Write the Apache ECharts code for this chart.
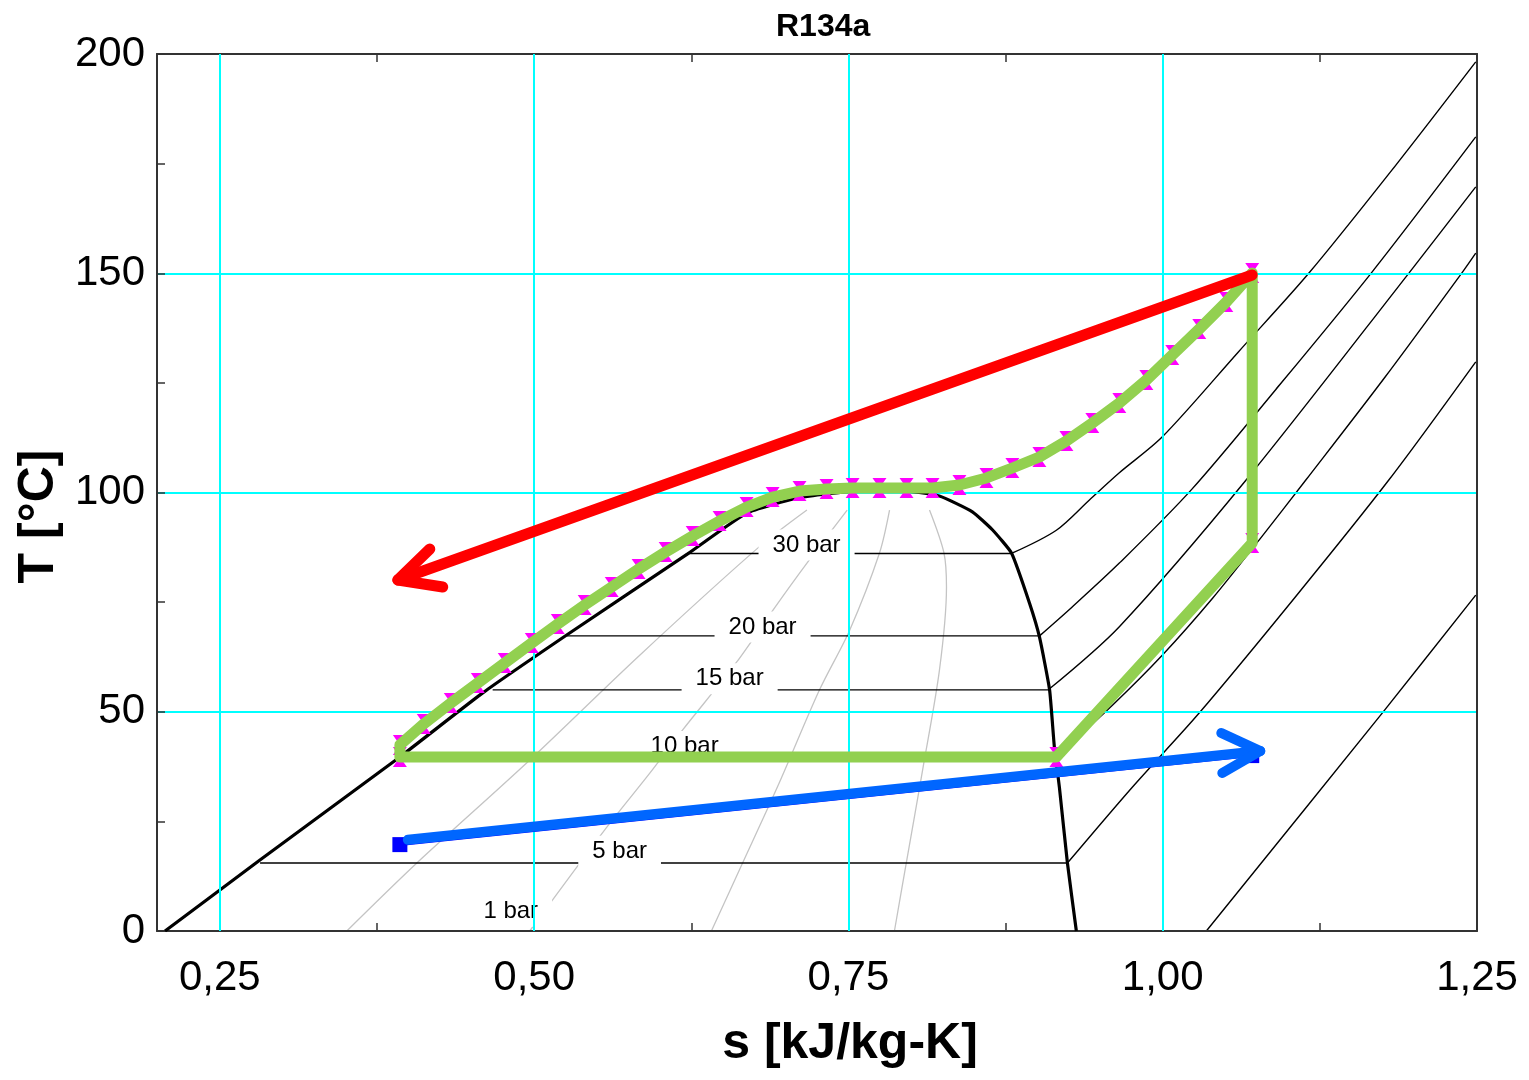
<!DOCTYPE html>
<html>
<head>
<meta charset="utf-8">
<script src="https://cdn.jsdelivr.net/npm/echarts@6/dist/echarts.min.js"></script>
<style>html,body{margin:0;padding:0;background:#fff}#c{width:1529px;height:1080px}</style>
</head>
<body>
<div id="c"></div>
<script>
// ---------- DATA (s [kJ/kg-K], T [°C]) ----------
const xLabelValues = [0.25, 0.5, 0.75, 1.0, 1.25];
const xTickValues = [0.25, 0.375, 0.5, 0.625, 0.75, 0.875, 1.0, 1.125];
const xGridValues = [0.25, 0.5, 0.75, 1.0];

// saturation dome
const dome = [[0.2064,0],[0.2819,16.2],[0.3932,39.7],[0.4591,54.3],[0.5259,67.5],[0.6221,86.0],[0.669,95.3],[0.7087,98.7],[0.75,100.2],[0.79,100.5],[0.8223,99.2],[0.8486,95.6],[0.8645,91.5],[0.8797,86.2],[0.894,74.8],[0.902,67.0],[0.910,55.0],[0.9138,42.0],[0.9178,32.8],[0.9242,15.5],[0.9313,0]];

// quality lines (grey)
const quality1 = [[0.351,0],[0.4067,15.5],[0.494,38.3],[0.584,62.9],[0.679,87.6],[0.717,96.0]];
const quality2 = [[0.4965,0],[0.556,23.0],[0.592,36.0],[0.618,45.8],[0.661,61.3],[0.690,73.2],[0.717,83.9],[0.749,96.0]];
const quality3 = [[0.641,0],[0.6658,15.5],[0.695,33.8],[0.727,55.0],[0.751,68.6],[0.7747,86.2],[0.7827,96.0]];
const quality4 = [[0.7866,0],[0.796,15.5],[0.809,36.7],[0.8224,59.5],[0.828,78.4],[0.826,86.2],[0.8145,96.0]];

// isobars: two-phase part
const pressureNames = ['30 bar','20 bar','15 bar','10 bar','5 bar'];
const twoPhaseT  = [86.1, 67.3, 55.0, 39.6, 15.5];
const twoPhaseSL = [0.622, 0.526, 0.467, 0.3932, 0.282];
const twoPhaseSV = [0.8797, 0.902, 0.909, 0.9146, 0.9242];

// isobars: superheated part
const sup30 = [[0.8797,86.1],[0.9154,91.4],[0.9417,98.3],[0.9655,104.5],[0.9997,112.7],[1.06,132.0],[1.1165,150.1],[1.185,174.5],[1.249,198.2]];
const sup20 = [[0.902,67.3],[0.928,73.9],[0.9655,83.9],[1.0227,100.6],[1.09,123.5],[1.166,150.1],[1.249,181.1]];
const sup15 = [[0.909,55.0],[0.9655,69.4],[1.0665,102.9],[1.196,150.1],[1.249,169.7]];
const sup10 = [[0.9146,39.6],[0.96,51.5],[1.0,63.0],[1.04,76.0],[1.0768,89.2],[1.114,102.9],[1.176,126.0],[1.238,150.1],[1.249,154.6]];
const sup5  = [[0.9242,15.5],[0.9758,32.8],[1.029,49.7],[1.105,76.0],[1.18,102.9],[1.249,129.8]];
const sup1  = [[1.0347,0],[1.1746,49.7],[1.249,76.6]];

// isobar labels
const isoLabelNames = ['30 bar','20 bar','15 bar','10 bar','5 bar','1 bar'];
const isoLabelS = [0.7167, 0.6817, 0.6555, 0.6197, 0.568, 0.4814];
const isoLabelT = [88.0, 69.3, 57.5, 42.1, 18.2, 4.5];

// cycle (green) with data points (magenta markers)
const cycleCurve = [[1.0712,150.06],[1.0506,143.44],[1.0291,137.29],[1.0076,131.36],[0.9870,125.66],[0.9655,120.41],[0.9440,115.85],[0.9234,111.74],[0.9019,108.10],[0.8804,105.59],[0.8598,103.31],[0.8383,101.71],[0.8169,101.03],[0.7962,101.03],[0.7747,101.03],[0.7533,101.03],[0.7326,100.80],[0.7111,100.34],[0.6897,98.97],[0.6690,96.69],[0.6475,93.50],[0.6261,90.08],[0.6046,86.43],[0.5831,82.55],[0.5617,78.45],[0.5402,74.34],[0.5188,70.01],[0.4981,65.68],[0.4766,61.12],[0.4552,56.56],[0.4337,52.0],[0.4122,47.21],[0.3932,42.42]];
const cycleLow = [[0.3932,39.68],[0.9154,39.68],[1.0712,88.48]];

// red arrow
const redShaft = [[1.0712,149.6],[0.3916,80.05]];
const redHead  = [[0.417,87.1],[0.3916,80.05],[0.4273,78.45]];

// blue process and arrow
const bluePoints = [[0.3932,19.7],[1.0708,40.0]];
const blueShaft  = [[0.3995,20.8],[1.0776,41.05]];
const blueHead   = [[1.0466,45.15],[1.0776,41.05],[1.0474,36.03]];

// ---------- CHART ----------
const FONT = 'Liberation Sans, Arial, sans-serif';
const chart = echarts.init(document.getElementById('c'), null, {renderer: 'canvas'});

const cyclePath = cycleLow.concat(cycleCurve).concat([[0.3932,39.68]]);
const cycleMarkers = cycleCurve.concat(cycleLow);

function thinLine(data, color, width, z, smooth) {
  return {type: 'line', data: data, showSymbol: false, symbol: 'none', smooth: smooth || false,
    lineStyle: {color: color, width: width}, z: z, silent: true, animation: false};
}

const series = [];
// cyan vertical grid lines
series.push({type: 'line', data: [], z: 1, silent: true,
  markLine: {silent: true, symbol: ['none','none'], animation: false, label: {show: false},
    lineStyle: {color: '#00FFFF', width: 2, type: 'solid'},
    data: xGridValues.map(v => ({xAxis: v}))}});
[quality1, quality2, quality3, quality4].forEach(q => series.push(thinLine(q, '#C4C4C4', 1.3, 2, 0.3)));
pressureNames.forEach((n, i) => series.push(thinLine([[twoPhaseSL[i], twoPhaseT[i]], [twoPhaseSV[i], twoPhaseT[i]]], '#000', 1.4, 2)));
[sup30, sup20, sup15, sup10, sup5, sup1].forEach(d => series.push(thinLine(d, '#000', 1.4, 2, 0.3)));
series.push(thinLine(dome, '#000', 3.2, 3, 0.15));
// labels
series.push({type: 'scatter', z: 4, silent: true, animation: false,
  symbol: 'circle', symbolSize: 1, itemStyle: {color: 'rgba(255,255,255,0)', opacity: 1},
  data: isoLabelNames.map((n, i) => ({name: n, value: [isoLabelS[i], isoLabelT[i]]})),
  label: {show: true, position: 'inside', formatter: p => p.name, fontSize: 24, fontFamily: FONT,
    color: '#000', opacity: 1, textBorderWidth: 0, backgroundColor: '#fff', padding: [4, 14, 3, 14]}});
// magenta hourglass markers
series.push({type: 'scatter', z: 5, silent: true, animation: false, data: cycleMarkers,
  symbol: 'path://M0,0 L12,0 L6,9 L12,18 L0,18 L6,9 Z', symbolSize: [14, 20],
  itemStyle: {color: '#FF00FF', opacity: 1}});
// green cycle
series.push({type: 'line', z: 6, data: cyclePath, showSymbol: false, symbol: 'none', silent: true, animation: false,
  lineStyle: {color: '#92D050', width: 11, join: 'round', cap: 'round'}});
// red arrow
[redShaft, redHead].forEach(d => series.push({type: 'line', z: 7, data: d, showSymbol: false, symbol: 'none', silent: true, animation: false,
  lineStyle: {color: '#FF0000', width: 11, join: 'round', cap: 'round'}}));
// blue process line with squares
series.push({type: 'line', z: 7, data: bluePoints, showSymbol: true, symbol: 'rect', symbolSize: 15, silent: true, animation: false,
  itemStyle: {color: '#0000FF', opacity: 1}, lineStyle: {color: '#0000FF', width: 3}});
[blueShaft, blueHead].forEach(d => series.push({type: 'line', z: 8, data: d, showSymbol: false, symbol: 'none', silent: true, animation: false,
  lineStyle: {color: '#0066FF', width: 10, join: 'round', cap: 'round'}}));

const axisLineStyle = {color: '#333', width: 2};
const option = {
  animation: false,
  backgroundColor: '#fff',
  title: {text: 'R134a', left: 776, top: 11, padding: 0,
    textStyle: {fontFamily: FONT, fontSize: 32, fontWeight: 'bold', color: '#000'}},
  grid: {left: 157, right: 52, top: 54, bottom: 149, containLabel: false},
  xAxis: [
    {type: 'value', position: 'bottom', min: 0.2, max: 1.25, z: 3,
      name: 's [kJ/kg-K]', nameLocation: 'middle', nameGap: 88,
      nameTextStyle: {fontFamily: FONT, fontSize: 50, fontWeight: 'bold', color: '#000', padding: [0, 0, 0, 66]},
      axisLine: {show: true, onZero: false, lineStyle: axisLineStyle},
      axisTick: {show: true, inside: true, length: 8, customValues: xTickValues, lineStyle: {color: '#333', width: 1.5}},
      axisLabel: {show: true, customValues: xLabelValues, margin: 26, fontFamily: FONT, fontSize: 42, color: '#000',
        formatter: v => v.toFixed(2).replace('.', ',')},
      splitLine: {show: false}},
    {type: 'value', position: 'top', min: 0.2, max: 1.25, z: 3,
      axisLine: {show: true, onZero: false, lineStyle: axisLineStyle},
      axisTick: {show: true, inside: true, length: 8, customValues: xTickValues, lineStyle: {color: '#333', width: 1.5}},
      axisLabel: {show: false}, splitLine: {show: false}}
  ],
  yAxis: [
    {type: 'value', position: 'left', min: 0, max: 200, interval: 50, z: 3,
      name: 'T [°C]', nameLocation: 'middle', nameGap: 89, nameRotate: 90,
      nameTextStyle: {fontFamily: FONT, fontSize: 50, fontWeight: 'bold', color: '#000', padding: [0, 48, 0, 0]},
      axisLine: {show: true, onZero: false, lineStyle: axisLineStyle},
      axisTick: {show: true, inside: true, length: 8, lineStyle: {color: '#333', width: 1.5}},
      minorTick: {show: true, splitNumber: 2, length: 8, lineStyle: {color: '#333', width: 1.5}},
      axisLabel: {margin: 12, fontFamily: FONT, fontSize: 42, color: '#000'},
      splitLine: {show: true, showMinLine: false, showMaxLine: false, lineStyle: {color: '#00FFFF', width: 2}},
      minorSplitLine: {show: false}},
    {type: 'value', position: 'right', min: 0, max: 200, interval: 50, z: 3,
      axisLine: {show: true, onZero: false, lineStyle: axisLineStyle},
      axisTick: {show: false}, axisLabel: {show: false}, splitLine: {show: false}}
  ],
  series: series
};
chart.setOption(option);
</script>
</body>
</html>
